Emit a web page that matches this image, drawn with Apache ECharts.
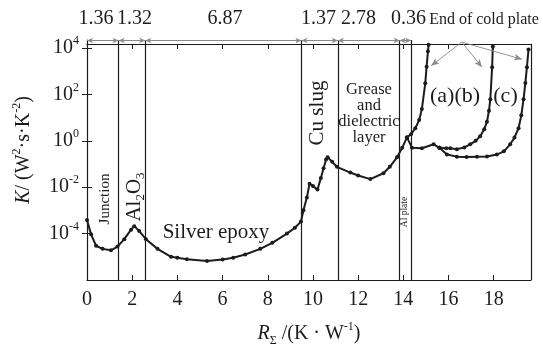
<!DOCTYPE html>
<html><head><meta charset="utf-8">
<script src="https://cdn.jsdelivr.net/npm/echarts@6/dist/echarts.min.js"></script>
<style>html,body{margin:0;padding:0;background:#fff}#c{width:543px;height:352px}</style>
</head><body><div id="c"></div>
<script>
// ---------- data ----------
const mainR = [0, 0.18, 0.40, 0.69, 1.06, 1.35, 1.65, 1.95, 2.09, 2.31, 2.61, 3.12, 3.72, 4.0, 4.42, 5.31, 6.0, 6.47, 7.0, 7.67, 8.2, 8.85, 9.2, 9.47, 9.58, 9.73, 9.85, 10.0, 10.2, 10.35, 10.47, 10.58, 10.65, 10.85, 11.06, 11.65, 12.0, 12.54, 13.12, 13.4, 13.72, 13.95, 14.16];
const mainK = [3.9e-4, 9.3e-5, 3.0e-5, 2.2e-5, 1.9e-5, 2.75e-5, 5.75e-5, 1.48e-4, 2.1e-4, 1.29e-4, 5.75e-5, 2.2e-5, 1.0e-5, 9.1e-6, 7.9e-6, 6.6e-6, 7.6e-6, 9.1e-6, 1.26e-5, 2.2e-5, 4.0e-5, 1.0e-4, 1.78e-4, 3.3e-4, 1.02e-3, 3.6e-3, 1.41e-2, 1.12e-2, 7.9e-3, 2.5e-2, 6.6e-2, 0.158, 0.195, 0.126, 0.076, 0.043, 0.032, 0.0224, 0.040, 0.076, 0.195, 0.50, 1.41];
const sharedR = [14.16, 14.38, 14.82, 15.34, 15.6];
const sharedK = [1.41, 0.51, 0.48, 0.71, 0.50];
const aR = [14.16, 14.35, 14.53, 14.7, 14.82, 14.97, 15.03, 15.09, 15.12];
const aK = [1.41, 2.0, 3.5, 7.9, 23.4, 302, 1580, 7400, 14100];
const bR = [15.6, 15.9, 16.08, 16.37, 16.7, 16.96, 17.2, 17.40, 17.58, 17.70, 17.79, 17.85, 17.93, 17.96];
const bK = [0.50, 0.48, 0.48, 0.44, 0.52, 0.71, 1.0, 1.58, 3.2, 6.6, 20, 62, 1510, 11700];
const cR = [15.6, 15.93, 16.37, 16.8, 17.26, 17.7, 18.14, 18.45, 18.73, 18.92, 19.10, 19.22, 19.32, 19.4, 19.47, 19.54];
const cK = [0.50, 0.257, 0.209, 0.20, 0.209, 0.214, 0.257, 0.355, 0.71, 1.41, 3.5, 12.6, 62, 316, 1510, 8700];
const layerBounds = [0, 1.40, 2.58, 9.49, 11.10, 13.84, 14.35];
const layerWidths = ['1.36', '1.32', '6.87', '1.37', '2.78', '0.36'];
const xTickLabels = ['0', '2', '4', '6', '8', '10', '12', '14', '16', '18'];
const yTickExponents = [-4, -2, 0, 2, 4];
const coldPlateFrom = [16.59, 18200];
const coldPlateTo = [[15.23, 1740], [17.48, 1510], [19.25, 3310]];

// ---------- layout / style ----------
const serif = 'Liberation Serif';
const ink = '#1c1c1c';
const gray = '#8a8a8a';
const xMax = 19.65, yMin = 1e-6, yMax = Math.pow(10, 4.35);
const dimK = Math.pow(10, 4.33);
const frameK = Math.pow(10, 4.187);
const widthLabelX = [96, 134.5, 225, 318.5, 358.5, 408.5];

const pairs = (xs, ys) => xs.map((x, i) => [x, ys[i]]);
function curve(data, extra) {
  return Object.assign({
    type: 'line', data, symbol: 'circle', symbolSize: 4, showSymbol: true,
    lineStyle: { color: ink, width: 2 }, itemStyle: { color: ink },
    silent: true, clip: false, z: 3
  }, extra || {});
}

const chart = echarts.init(document.getElementById('c'));
const ySup = {
  b: { fontFamily: serif, fontSize: 20, color: ink, lineHeight: 26 },
  s: { fontFamily: serif, fontSize: 12, color: ink, verticalAlign: 'top' }
};
const rich = {
  i: { fontFamily: serif, fontSize: 20, fontStyle: 'italic', color: ink, lineHeight: 26 },
  n: { fontFamily: serif, fontSize: 20, color: ink, lineHeight: 26 },
  sup: { fontFamily: serif, fontSize: 12, color: ink, verticalAlign: 'top' },
  sub: { fontFamily: serif, fontSize: 12, color: ink, verticalAlign: 'bottom' }
};

function txt(x, y, text, size, rot, extra) {
  return Object.assign({
    type: 'text', x, y, rotation: rot || 0, silent: true, z: 10,
    style: Object.assign({
      text, fontFamily: serif, fontSize: size, fill: ink,
      align: 'center', verticalAlign: 'middle', textAlign: 'center', textVerticalAlign: 'middle'
    }, extra || {})
  });
}

const graphics = [];
layerWidths.forEach((w, i) => graphics.push(txt(widthLabelX[i], 19, w, 20)));
graphics.push(txt(484, 20, 'End of cold plate', 16));
graphics.push(txt(105, 199, 'Junction', 15, Math.PI / 2));
graphics.push(txt(134, 197, '{n|Al}{s|2}{n|O}{s|3}', 20, Math.PI / 2, {
  rich: { n: { fontFamily: serif, fontSize: 21, fill: ink, lineHeight: 26 }, s: { fontFamily: serif, fontSize: 13, fill: ink, verticalAlign: 'bottom' } }
}));
graphics.push(txt(216, 232, 'Silver epoxy', 21));
graphics.push(txt(317, 113, 'Cu slug', 21, Math.PI / 2));
graphics.push(txt(369, 114, 'Grease\nand\ndielectric\nlayer', 16.5, 0, { lineHeight: 16 }));
graphics.push(txt(404.5, 212, 'Al plate', 9.5, Math.PI / 2));
graphics.push(txt(455, 96, '(a)(b)', 22));
graphics.push(txt(505.5, 96, '(c)', 22));

const option = {
  animation: false,
  backgroundColor: '#fff',
  grid: { left: 87, right: 12, top: 40, bottom: 63 },
  xAxis: [{
    type: 'value', min: 0, max: xMax, interval: 2, position: 'bottom',
    axisLine: { lineStyle: { color: ink, width: 1.2 } },
    axisTick: { inside: true, length: 5, lineStyle: { color: ink } },
    axisLabel: {
      fontFamily: serif, fontSize: 20, color: ink, margin: 10, showMaxLabel: false,
      formatter: v => { const k = Math.round(v / 2); return Math.abs(v - 2 * k) < 1e-6 && xTickLabels[k] !== undefined ? xTickLabels[k] : ''; }
    },
    splitLine: { show: false },
    name: '{i|R}{sub|Σ}{n| /(K · W}{sup|-1}{n|)}',
    nameLocation: 'middle', nameGap: 41,
    nameTextStyle: { fontFamily: serif, fontSize: 20, color: ink, rich }
  }, {
    type: 'value', min: 0, max: xMax, interval: 2, position: 'top', offset: -4,
    axisLine: { show: true, lineStyle: { color: ink, width: 1.2 } },
    axisTick: { inside: true, length: 5, lineStyle: { color: ink } },
    axisLabel: { show: false }, splitLine: { show: false }
  }],
  yAxis: [{
    type: 'log', logBase: 10, min: yMin, max: yMax, interval: 2, position: 'left',
    axisLine: { show: true, lineStyle: { color: ink, width: 1.2 } },
    axisTick: { inside: true, length: 5, lineStyle: { color: ink }, customValues: yTickExponents.map(e => Math.pow(10, e)) },
    axisLabel: {
      margin: 8, rich: ySup,
      formatter: v => {
        const e = Math.log10(v); const r = Math.round(e);
        if (Math.abs(e - r) > 1e-6 || yTickExponents.indexOf(r) < 0) return '';
        return '{b|10}{s|' + r + '}';
      }
    },
    splitLine: { show: false },
    name: '{i|K}{n|/ (W}{sup|2}{n|·s·K}{sup|-2}{n|)}',
    nameLocation: 'middle', nameGap: 50, nameRotate: 90,
    nameTextStyle: { fontFamily: serif, fontSize: 20, color: ink, rich, padding: [0, 0, 0, 20] }
  }, {
    type: 'log', logBase: 10, min: yMin, max: yMax, interval: 2, position: 'right',
    axisLine: { show: false },
    axisTick: { inside: true, length: 5, lineStyle: { color: ink }, customValues: yTickExponents.map(e => Math.pow(10, e)) },
    axisLabel: { show: false }, splitLine: { show: false }
  }],
  series: [
    curve(pairs(mainR, mainK), {
      markLine: {
        silent: true, symbol: ['none', 'none'], label: { show: false }, animation: false,
        lineStyle: { color: ink, width: 1.2, type: 'solid' },
        data: layerBounds.slice(1).map(v => ({ xAxis: v }))
      }
    }),
    curve(pairs(sharedR, sharedK), {
      markLine: {
        silent: true, symbol: ['arrow', 'arrow'], symbolSize: [4, 6], label: { show: false }, animation: false,
        lineStyle: { color: gray, width: 1, type: 'solid' },
        data: layerWidths.map((w, i) => [{ coord: [layerBounds[i], dimK] }, { coord: [layerBounds[i + 1], dimK] }])
      }
    }),
    curve(pairs(aR, aK), {
      markLine: {
        silent: true, symbol: ['none', 'arrow'], symbolSize: [5, 8], label: { show: false }, animation: false,
        lineStyle: { color: gray, width: 0.9, type: 'solid' },
        data: coldPlateTo.map(p => [{ coord: coldPlateFrom }, { coord: p }])
      }
    }),
    curve(pairs(bR, bK), {
      markLine: {
        silent: true, symbol: ['none', 'none'], label: { show: false }, animation: false,
        lineStyle: { color: ink, width: 1.2, type: 'solid' },
        data: [[{ coord: [19.64, yMin] }, { coord: [19.64, frameK] }]]
      }
    }),
    curve(pairs(cR, cK))
  ],
  graphic: graphics
};
chart.setOption(option);
</script>
</body></html>
